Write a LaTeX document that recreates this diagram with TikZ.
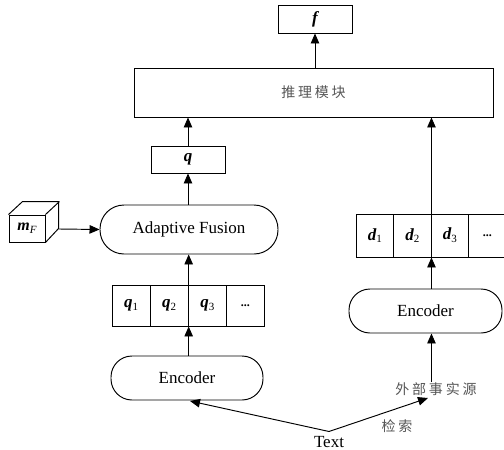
\documentclass[tikz,border=0pt]{standalone}
\usepackage{fontspec}
\setmainfont{Liberation Serif}
\newfontfamily\cjk[LetterSpace=20]{Noto Sans CJK SC}
\usetikzlibrary{arrows.meta}
\definecolor{cjkgray}{HTML}{555555}
\newcommand{\bi}[1]{{\bfseries\itshape #1}}
\newcommand{\sbs}[1]{\raisebox{-0.35ex}{\fontsize{11}{11}\selectfont #1}}
\begin{document}
\begin{tikzpicture}[x=1pt,y=-1pt,line width=0.95pt,
  box/.style={draw,inner sep=0pt,font=\fontsize{17}{17}\selectfont},
  pill/.style={draw,inner sep=0pt,rounded corners=21pt,font=\fontsize{17}{17}\selectfont},
  cell/.style={draw,inner sep=0pt,minimum width=38.1pt,minimum height=41pt,font=\fontsize{17}{17}\selectfont},
  dcell/.style={draw,inner sep=0pt,minimum width=37.5pt,minimum height=43pt,font=\fontsize{17}{17}\selectfont},
  zh/.style={inner sep=0.5pt,text=cjkgray,font=\fontsize{14}{14}\selectfont\cjk},
  arr/.style={-{Triangle[length=10pt,width=8.5pt]}}]
\useasboundingbox (0,0) rectangle (504,450);
% top
\node[box,minimum width=74pt,minimum height=28pt] (f) at (315,19) {\bi{f}};
\node[box,minimum width=359pt,minimum height=49pt] (reason) at (313.5,92.5) {\cjk\color{cjkgray}\fontsize{14}{14}\selectfont 推理模块};
\node[box,minimum width=74pt,minimum height=27pt] (q) at (188,159.5) {\bi{q}};
\node[pill,minimum width=178pt,minimum height=49pt,rounded corners=24pt] (af) at (189,229.5) {Adaptive Fusion};
% cube
\node[box,minimum width=36pt,minimum height=27pt,font=\fontsize{16}{16}\selectfont] (mf) at (27,228.5) {\bi{m}\raisebox{-0.35ex}{\fontsize{11}{11}\selectfont\itshape F}};
\draw (mf.north west) -- ++(14,-13) -- ++(36,0) -- ++(0,27) -- (mf.south east);
\draw (mf.north east) -- ++(14,-13);
\coordinate (cubeR) at (59,229);
% q sequence
\node[cell] (q1) at (131.05,305.5) {\bi{q}\sbs{1}};
\node[cell] (q2) at (169.15,305.5) {\bi{q}\sbs{2}};
\node[cell] (q3) at (207.25,305.5) {\bi{q}\sbs{3}};
\node[cell,font=\fontsize{12}{12}\selectfont\bfseries] (q4) at (245.35,305.5) {...};
\node[pill,minimum width=152pt,minimum height=44pt] (encL) at (187,378) {Encoder};
% d sequence
\node[dcell] (d1) at (374.75,235.5) {\bi{d}\sbs{1}};
\node[dcell] (d2) at (412.25,235.5) {\bi{d}\sbs{2}};
\node[dcell] (d3) at (449.75,235.5) {\bi{d}\sbs{3}};
\node[dcell,font=\fontsize{12}{12}\selectfont\bfseries] (d4) at (487.25,235.5) {...};
\node[pill,minimum width=153pt,minimum height=44pt] (encR) at (425.5,311) {Encoder};
\node[zh] (src) at (436,389) {外部事实源};
\node[inner sep=0pt,font=\fontsize{17}{17}\selectfont] (text) at (329,442) {Text};
\node[zh] (ret) at (397,426) {检索};
\coordinate (apex) at (329,431.5);
\coordinate (encLin) at (190,401);
\coordinate (srcin) at (428,398);
% connectors
\draw[arr] (reason.north -| f) -- (f.south);
\draw[arr] (q.north) -- (q.north |- reason.south);
\draw[arr] (af.north -| q) -- (q.south);
\draw[arr] (cubeR) -- (af.west);
\draw[arr] (q2.south east) -- (q2.south east |- af.south);
\draw[arr] (encL.north -| q2.east) -- (q2.south east);
\draw[arr] (d2.north east) -- (d2.north east |- reason.south);
\draw[arr] (encR.north -| d2.east) -- (d2.south east);
\draw[arr] (src.north -| d2.east) -- (encR.south -| d2.east);
\draw[arr] (apex) -- (encLin);
\draw[arr] (apex) -- (srcin);
\end{tikzpicture}
\end{document}
